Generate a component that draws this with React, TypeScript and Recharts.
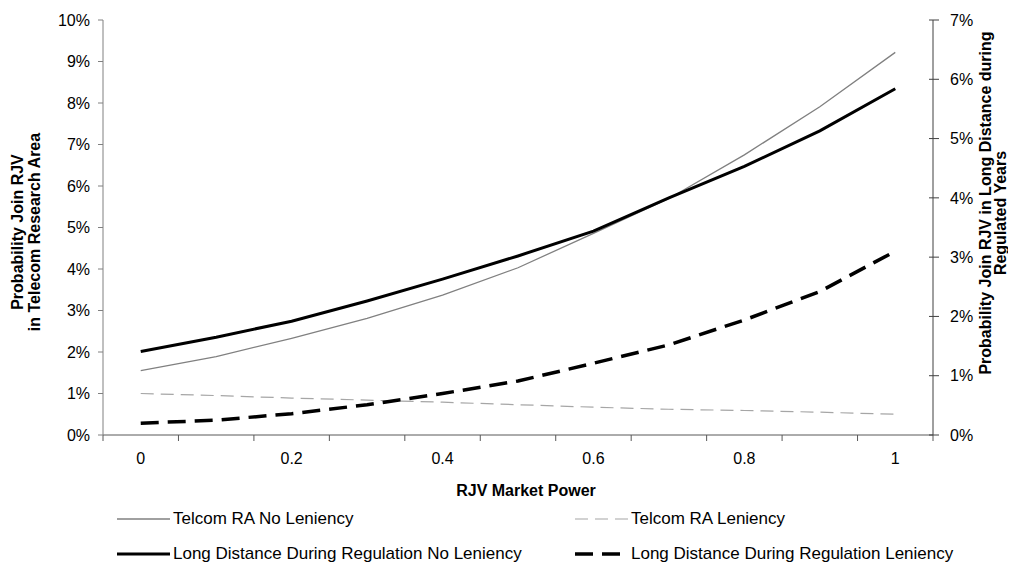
import React from 'react';
import { LineChart, Line, XAxis, YAxis, Legend } from 'recharts';

// ---- data ----
const marketPower = [0, 0.1, 0.2, 0.3, 0.4, 0.5, 0.6, 0.7, 0.8, 0.9, 1];
const telcomNoLeniency = [1.55, 1.89, 2.33, 2.81, 3.37, 4.03, 4.86, 5.70, 6.75, 7.91, 9.22];
const telcomLeniency = [1.0, 0.95, 0.89, 0.84, 0.79, 0.73, 0.67, 0.62, 0.59, 0.55, 0.5];
const longDistNoLeniency = [1.41, 1.65, 1.92, 2.26, 2.63, 3.02, 3.44, 4.0, 4.53, 5.13, 5.84];
const longDistLeniency = [0.2, 0.25, 0.36, 0.51, 0.7, 0.91, 1.21, 1.52, 1.94, 2.42, 3.1];

const xTickLabels = [0, 0.2, 0.4, 0.6, 0.8, 1];
const xBoundaryTicks = [-0.05, 0.05, 0.15, 0.25, 0.35, 0.45, 0.55, 0.65, 0.75, 0.85, 0.95, 1.05];
const leftTicks = [0, 1, 2, 3, 4, 5, 6, 7, 8, 9, 10];
const rightTicks = [0, 1, 2, 3, 4, 5, 6, 7];

const seriesNames = {
  telcomNo: 'Telcom RA No Leniency',
  telcomLen: 'Telcom RA Leniency',
  ldNo: 'Long Distance During Regulation No Leniency',
  ldLen: 'Long Distance During Regulation Leniency',
};

const data = marketPower.map((x, i) => ({
  x,
  telcomNo: telcomNoLeniency[i],
  telcomLen: telcomLeniency[i],
  ldNo: longDistNoLeniency[i],
  ldLen: longDistLeniency[i],
}));

// ---- styles ----
const FONT = '"Liberation Sans", Arial, sans-serif';
const styles: Record<string, { stroke: string; width: number; dash?: string }> = {
  telcomNo: { stroke: '#808080', width: 1.3 },
  telcomLen: { stroke: '#a6a6a6', width: 1.2, dash: '13 7' },
  ldNo: { stroke: '#000000', width: 3 },
  ldLen: { stroke: '#000000', width: 3.5, dash: '18 9' },
};

const R_TICK_SIZE = 6;
const R_TICK_MARGIN = 11;

const RightTick = (props: any) => {
  const { x, y, payload } = props;
  const axisX = x - R_TICK_SIZE - R_TICK_MARGIN;
  return (
    <g>
      <line x1={axisX - 4} x2={axisX} y1={y} y2={y} stroke="#404040" strokeWidth={1} />
      <text x={x} y={y} dy="0.355em" textAnchor="start" fontSize={16} fill="#000" fontFamily={FONT}>
        {payload.value}%
      </text>
    </g>
  );
};

const LeftTitle = (props: any) => {
  const vb = props.viewBox;
  const cy = vb.y + 212;
  const l1 = vb.x + 9;
  const l2 = vb.x + 26;
  return (
    <g fontFamily={FONT} fontWeight="bold" fontSize={16} fill="#000">
      <text x={l1} y={cy} transform={`rotate(-90, ${l1}, ${cy})`} textAnchor="middle" dominantBaseline="central">
        Probability Join RJV
      </text>
      <text x={l2} y={cy} transform={`rotate(-90, ${l2}, ${cy})`} textAnchor="middle" dominantBaseline="central">
        in Telecom Research Area
      </text>
    </g>
  );
};

const RightTitle = (props: any) => {
  const vb = props.viewBox;
  const cy = vb.y + 183;
  const x1 = vb.x + 52;
  const x2 = vb.x + 67;
  return (
    <g fontFamily={FONT} fontWeight="bold" fontSize={16} fill="#000">
      <text x={x1} y={cy} transform={`rotate(-90, ${x1}, ${cy})`} textAnchor="middle" dominantBaseline="central">
        Probability Join RJV in Long Distance during
      </text>
      <text x={x2} y={cy + 10} transform={`rotate(-90, ${x2}, ${cy + 10})`} textAnchor="middle" dominantBaseline="central">
        Regulated Years
      </text>
    </g>
  );
};

const XTitle = (props: any) => {
  const vb = props.viewBox;
  return (
    <text
      x={vb.x + vb.width / 2 + 8}
      y={vb.y + 49}
      textAnchor="middle"
      dominantBaseline="central"
      fontFamily={FONT}
      fontWeight="bold"
      fontSize={16}
      fill="#000"
    >
      RJV Market Power
    </text>
  );
};

const legendLayout = [
  { key: 'telcomNo', left: 109, top: 21 },
  { key: 'telcomLen', left: 567, top: 21 },
  { key: 'ldNo', left: 109, top: 56 },
  { key: 'ldLen', left: 567, top: 56 },
];

const LegendContent = () => (
  <div style={{ position: 'relative', width: 1000, height: 70, fontFamily: FONT }}>
    {legendLayout.map((item) => {
      const s = styles[item.key];
      return (
        <div
          key={item.key}
          style={{ position: 'absolute', left: item.left, top: item.top - 12, height: 24, display: 'flex', alignItems: 'center' }}
        >
          <svg width={53} height={24} style={{ display: 'block' }}>
            <line x1={0} x2={53} y1={12} y2={12} stroke={s.stroke} strokeWidth={s.width} strokeDasharray={s.dash} />
          </svg>
          <span style={{ fontSize: 17, color: '#000', marginLeft: 3, whiteSpace: 'nowrap', lineHeight: '24px' }}>
            {(seriesNames as any)[item.key]}
          </span>
        </div>
      );
    })}
  </div>
);

export default function App() {
  return (
    <div style={{ width: 1000, height: 560, fontFamily: FONT, background: '#fff' }}>
      <LineChart width={1000} height={560} data={data} margin={{ top: 12, right: 0, bottom: 0, left: 0 }}>
        <XAxis
          xAxisId="b"
          type="number"
          dataKey="x"
          domain={[-0.05, 1.05]}
          allowDataOverflow
          ticks={xTickLabels}
          interval={0}
          height={57}
          tickSize={0}
          tickMargin={12}
          axisLine={false}
          tickLine={false}
          tick={{ fontSize: 16, fill: '#000', fontFamily: FONT }}
          tickFormatter={(v: number) => String(v)}
          label={(p: any) => <XTitle {...p} />}
        />
        <XAxis
          xAxisId="a"
          type="number"
          dataKey="x"
          domain={[-0.05, 1.05]}
          allowDataOverflow
          ticks={xBoundaryTicks}
          interval={0}
          height={6}
          tickSize={6}
          tick={() => null}
          axisLine={{ stroke: '#595959' }}
          tickLine={{ stroke: '#595959' }}
        />
        <YAxis
          yAxisId="left"
          orientation="left"
          domain={[0, 10]}
          ticks={leftTicks}
          interval={0}
          width={95}
          tickSize={5}
          tickMargin={8}
          axisLine={{ stroke: '#808080' }}
          tickLine={{ stroke: '#808080' }}
          tick={{ fontSize: 16, fill: '#000', fontFamily: FONT }}
          tickFormatter={(v: number) => `${v}%`}
          label={(p: any) => <LeftTitle {...p} />}
        />
        <YAxis
          yAxisId="right"
          orientation="right"
          domain={[0, 7]}
          ticks={rightTicks}
          interval={0}
          width={75}
          tickSize={R_TICK_SIZE}
          tickMargin={R_TICK_MARGIN}
          axisLine={{ stroke: '#404040' }}
          tickLine={{ stroke: '#404040' }}
          tick={(p: any) => <RightTick {...p} />}
          label={(p: any) => <RightTitle {...p} />}
        />
        <Legend verticalAlign="bottom" height={70} content={() => <LegendContent />} wrapperStyle={{ left: 0, width: 1000 }} />
        <Line
          xAxisId="a"
          yAxisId="left"
          dataKey="telcomLen"
          name={seriesNames.telcomLen}
          stroke={styles.telcomLen.stroke}
          strokeWidth={styles.telcomLen.width}
          strokeDasharray={styles.telcomLen.dash}
          dot={false}
          activeDot={false}
          isAnimationActive={false}
        />
        <Line
          xAxisId="a"
          yAxisId="left"
          dataKey="telcomNo"
          name={seriesNames.telcomNo}
          stroke={styles.telcomNo.stroke}
          strokeWidth={styles.telcomNo.width}
          dot={false}
          activeDot={false}
          isAnimationActive={false}
        />
        <Line
          xAxisId="a"
          yAxisId="right"
          dataKey="ldLen"
          name={seriesNames.ldLen}
          stroke={styles.ldLen.stroke}
          strokeWidth={styles.ldLen.width}
          strokeDasharray={styles.ldLen.dash}
          dot={false}
          activeDot={false}
          isAnimationActive={false}
        />
        <Line
          xAxisId="a"
          yAxisId="right"
          dataKey="ldNo"
          name={seriesNames.ldNo}
          stroke={styles.ldNo.stroke}
          strokeWidth={styles.ldNo.width}
          dot={false}
          activeDot={false}
          isAnimationActive={false}
        />
      </LineChart>
    </div>
  );
}
